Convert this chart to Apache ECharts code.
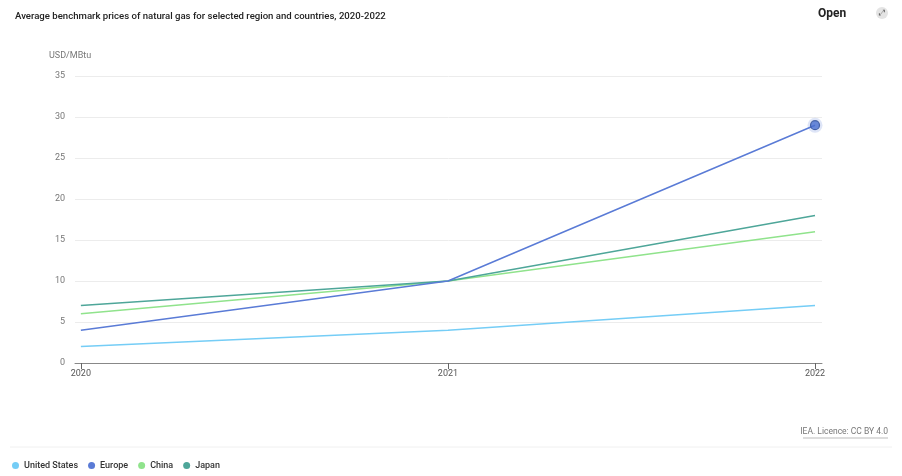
<!DOCTYPE html>
<html><head><meta charset="utf-8">
<script src="https://cdn.jsdelivr.net/npm/echarts@6/dist/echarts.min.js"></script>
<style>html,body{margin:0;padding:0;background:#fff}#c{width:902px;height:476px}</style>
</head><body><div id="c"></div>
<script>
const years = [2020, 2021, 2022];
const yTicks = [0, 5, 10, 15, 20, 25, 30, 35];
const seriesNames = ['United States', 'Europe', 'China', 'Japan'];
const unitedStates = [2, 4, 7];
const europe = [4, 10, 29];
const china = [6, 10, 16];
const japan = [7, 10, 18];
const colors = ['#75cdf6', '#5a7bd6', '#90e38c', '#4ea699'];

const chart = echarts.init(document.getElementById('c'));
const font = 'Roboto, "Liberation Sans", sans-serif';
function pts(arr){ return arr.map((v,i)=>[years[i], v]); }
const valuesAll = [unitedStates, europe, china, japan];
const series = seriesNames.map((n,i)=>({
  name: n, type: 'line', data: pts(valuesAll[i]), showSymbol: false, symbol: 'circle',
  lineStyle: {width: 1.5, color: colors[i]}, itemStyle: {color: colors[i]},
  z: i===1 ? 5 : 3, animation: false
}));
const last = europe.length - 1;
series.push({
  type: 'scatter', name: '_halo', data: [[years[last], europe[last]]], symbolSize: 15,
  itemStyle: {color: 'rgba(90,123,214,0.25)'}, z: 6, silent: true, animation: false
});
series.push({
  type: 'scatter', name: '_pt', data: [[years[last], europe[last]]], symbolSize: 9,
  itemStyle: {color: '#4a6fcf', borderColor: '#2f4d96', borderWidth: 1.2}, z: 7, silent: true, animation: false
});

chart.setOption({
  animation: false,
  color: colors,
  textStyle: {fontFamily: font},
  grid: {left: 75, right: 80, top: 76, bottom: 113, containLabel: false},
  title: {text: 'Average benchmark prices of natural gas for selected region and countries, 2020-2022',
    left: 10, top: 7, textStyle: {fontSize: 9.6, fontWeight: 500, color: '#222', fontFamily: font}},
  xAxis: {type: 'value', min: 2019.984, max: 2022.019,
    splitLine: {show: false},
    axisLine: {show: true, lineStyle: {color: '#888', width: 1}},
    axisTick: {show: true, customValues: years, length: 6, lineStyle: {color: '#666'}},
    axisLabel: {customValues: years, color: '#555', fontSize: 9, margin: 6, formatter: v => String(v)}
  },
  yAxis: {type: 'value', min: 0, max: 35, interval: 5,
    name: 'USD/MBtu', nameLocation: 'end', nameGap: 16,
    nameTextStyle: {color: '#777', fontSize: 9, align: 'left', padding: [0,0,0,-26]},
    axisLine: {show: false}, axisTick: {show: false},
    axisLabel: {color: '#777', fontSize: 9, margin: 10},
    splitLine: {lineStyle: {color: '#ececec', width: 1}}
  },
  legend: {data: seriesNames, left: 7, top: 456, icon: 'circle', itemWidth: 7, itemHeight: 7, itemGap: 10,
    textStyle: {fontSize: 9, fontWeight: 500, color: '#333', fontFamily: font}},
  graphic: [
    {type: 'text', left: 818, top: 8, style: {text: 'Open', font: 'bold 12px ' + font, fill: '#222'}},
    {type: 'circle', shape: {cx: 882, cy: 13, r: 6}, style: {fill: '#e4e4e4'}},
    {type: 'text', x: 882, y: 13, style: {text: '⤢', font: '8px "DejaVu Sans"', fill: '#666', align: 'center', verticalAlign: 'middle'}},
    {type: 'line', shape: {x1: 10, y1: 447, x2: 892, y2: 447}, style: {stroke: '#f0f0f0', lineWidth: 1}},
    {type: 'text', right: 14, top: 427, style: {text: 'IEA. Licence: CC BY 4.0', font: '8.5px ' + font, fill: '#777'}},
    {type: 'line', shape: {x1: 803, y1: 438, x2: 888, y2: 438}, style: {stroke: '#aaa', lineWidth: 0.8}}
  ],
  series: series
});
</script></body></html>
